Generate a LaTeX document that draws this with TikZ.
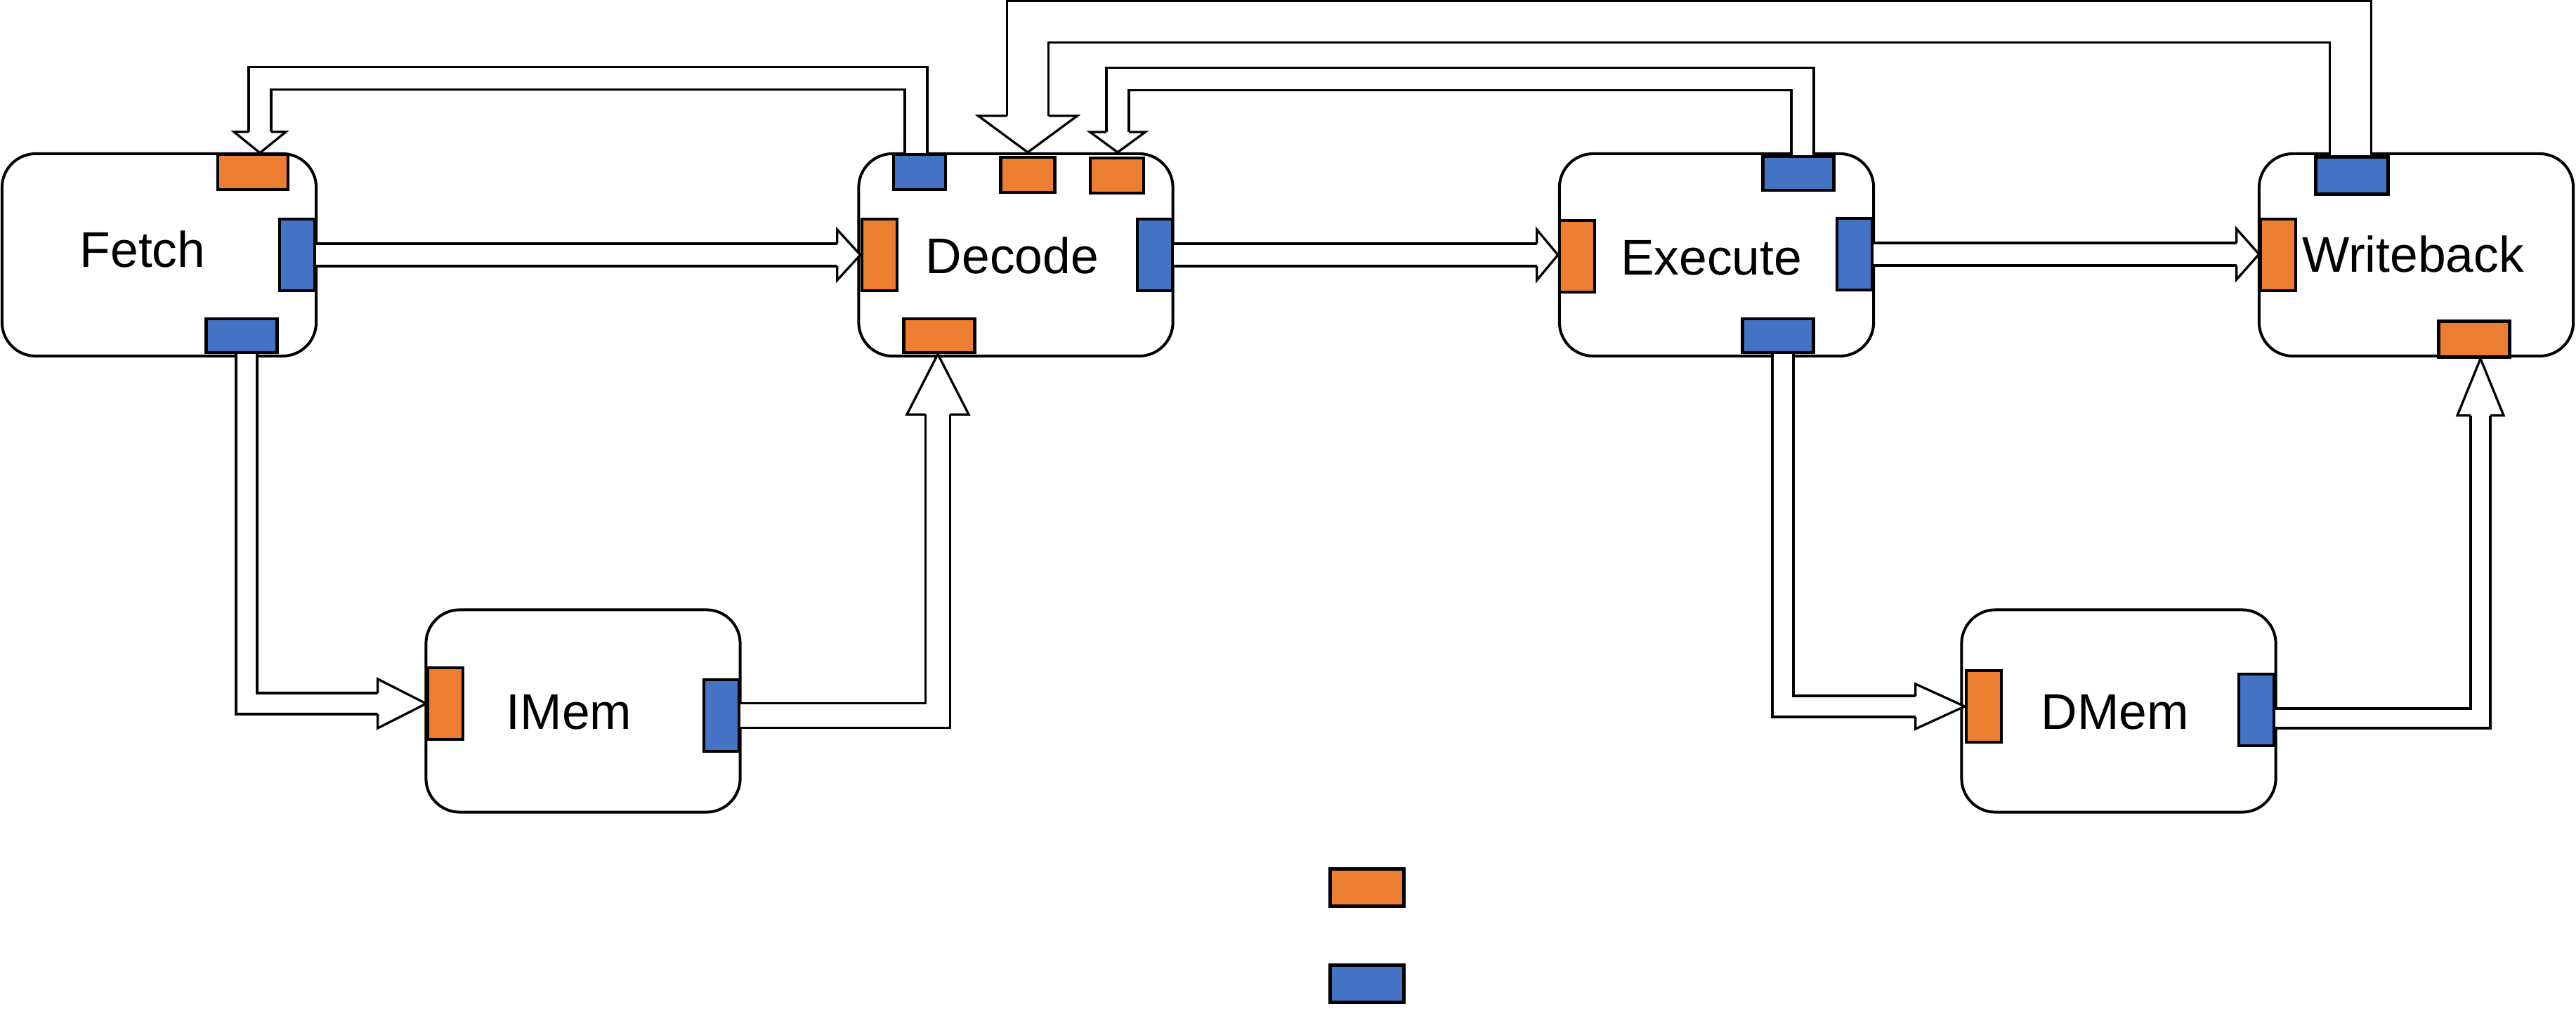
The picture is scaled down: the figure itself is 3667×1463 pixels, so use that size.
\documentclass[tikz,border=0pt]{standalone}
\usepackage{fontspec}
\setmainfont{Liberation Sans}
\usetikzlibrary{calc}
\definecolor{portorange}{HTML}{ED7D31}
\definecolor{portblue}{HTML}{4472C4}
\newcommand{\flexhead}[5]{%
  \begin{scope}[shift={#1},rotate=#2]
    \filldraw[headst] (-#3,#5) -- (-#3,#4) -- (0,0) -- (-#3,-#4) -- (-#3,-#5);
  \end{scope}}
\begin{document}
\begin{tikzpicture}[x=0.01cm,y=-0.01cm,
  box/.style={draw, line width=0.04cm, rounded corners=0.48cm, minimum width=4.47cm, minimum height=2.88cm, inner sep=0pt},
  oport/.style={draw, line width=0.045cm, fill=portorange, inner sep=0pt},
  bport/.style={draw, line width=0.045cm, fill=portblue, inner sep=0pt},
  hp/.style={minimum width=1.01cm, minimum height=0.48cm},
  vp/.style={minimum width=0.5cm, minimum height=1.02cm},
  lbl/.style={font=\fontsize{20.3pt}{24pt}\selectfont, anchor=base, inner sep=0pt},
  shaft/.style={draw, line width=0.033cm, double=white, double distance=#1},
  headst/.style={draw, fill=white, line width=0.033cm}]
\useasboundingbox (0,0) rectangle (3667,1463);
% boxes
\node[box] (fetch) at (226.5,363) {};
\node[box] (decode) at (1446,363) {};
\node[box] (execute) at (2443.5,363) {};
\node[box] (writeback) at (3439.5,363) {};
\node[box] (imem) at (830,1012.5) {};
\node[box] (dmem) at (3016,1012.5) {};
% labels
\node[lbl] (tfetch) at (203,380) {Fetch};
\node[lbl] (tdecode) at (1441,389) {Decode};
\node[lbl] (texecute) at (2436,391) {Execute};
\node[lbl] (twriteback) at (3435,387) {Writeback};
\node[lbl] (timem) at (810,1038) {IMem};
\node[lbl] (tdmem) at (3011,1038) {DMem};
% ports
\node[oport, minimum width=1cm, minimum height=0.5cm] (fT) at (360,245) {};
\node[bport, vp] (fR) at (423,363) {};
\node[bport, hp] (fB) at (344,478) {};
\node[bport, minimum width=0.74cm, minimum height=0.5cm] (dT) at (1309,245) {};
\node[oport, minimum width=0.77cm, minimum height=0.5cm] (dT1) at (1463,249) {};
\node[oport, minimum width=0.76cm, minimum height=0.5cm] (dT2) at (1590,250) {};
\node[oport, vp] (dL) at (1252,363) {};
\node[bport, vp] (dR) at (1644,363) {};
\node[oport, hp] (dB) at (1337,478) {};
\node[bport, hp] (eT) at (2560,247) {};
\node[oport, vp] (eL) at (2245,365) {};
\node[bport, vp] (eR) at (2640,362) {};
\node[bport, hp] (eB) at (2531,478) {};
\node[bport, minimum width=1.03cm, minimum height=0.53cm] (wT) at (3348,250) {};
\node[oport, vp] (wL) at (3243,363) {};
\node[oport, hp, minimum height=0.51cm] (wB) at (3522,483) {};
\node[oport, vp] (iL) at (634,1002) {};
\node[bport, vp] (iR) at (1027,1019) {};
\node[oport, vp] (mL) at (2824,1006) {};
\node[bport, vp] (mR) at (3212,1011) {};
% legend
\node[oport, line width=0.05cm, minimum width=1.05cm, minimum height=0.53cm] (legO) at (1946,1264) {};
\node[bport, line width=0.05cm, minimum width=1.05cm, minimum height=0.53cm] (legB) at (1946,1401) {};
% arrows
\draw[shaft=0.287cm] (fR.east) -- ($(fR.east -| dL.west)+(-33,0)$);
\flexhead{(fR.east -| dL.west)}{0}{33}{36}{16}
\draw[shaft=0.287cm] (dR.east) -- ($(dR.east -| eL.west)+(-30,0)$);
\flexhead{(dR.east -| eL.west)}{0}{30}{36}{16}
\draw[shaft=0.287cm] (eR.east) -- ($(eR.east -| wL.west)+(-32,0)$);
\flexhead{(eR.east -| wL.west)}{0}{32}{36}{16}
\draw[shaft=0.267cm] ($(fB.south)+(7,0)$) |- ($(iL.west)+(-69,0)$);
\flexhead{(iL.west)}{0}{69}{35}{15}
\draw[shaft=0.317cm] (iR.east) -| ($(dB.south)+(-2,86)$);
\flexhead{($(dB.south)+(-2,0)$)}{90}{86}{44}{17.5}
\draw[shaft=0.267cm] ($(eB.south)+(7,0)$) |- ($(mL.west)+(-70,0)$);
\flexhead{(mL.west)}{0}{70}{32}{15}
\draw[shaft=0.247cm] ($(mR.east)+(0,12)$) -| ($(wB.south)+(9,81)$);
\flexhead{($(wB.south)+(9,0)$)}{90}{81}{33}{14}
\draw[shaft=0.287cm] ($(dT.north)+(-5,0)$) -- ++(0,-106) -| ($(fT.north)+(10,-30)$);
\flexhead{($(fT.north)+(10,0)$)}{-90}{30}{37}{16}
\draw[shaft=0.287cm] ($(eT.north)+(6,0)$) -- ++(0,-108) -| ($(dT2.north |- decode.north)+(1,-29)$);
\flexhead{($(dT2.north |- decode.north)+(1,0)$)}{-90}{29}{39.5}{16}
\draw[shaft=0.557cm] ($(wT.north)+(-2,0)$) -- ++(0,-190) -| ($(dT1.north |- decode.north)+(0,-52)$);
\flexhead{(dT1.north |- decode.north)}{-90}{52}{70.5}{29.5}
\end{tikzpicture}
\end{document}
